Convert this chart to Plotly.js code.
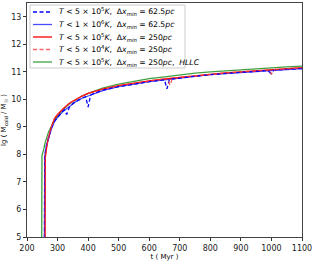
<!DOCTYPE html>
<html><head><meta charset="utf-8">
<script src="https://cdn.plot.ly/plotly-3.0.1.min.js"></script>
<style>html,body{margin:0;padding:0;background:#fff}#c{width:313px;height:261px}</style>
</head><body><div id="c"></div>
<script>
// Time grids (Myr) and lg(M_cold/M_sun) values per run
const tBlueDash = [257,258,262,270,280,290,300,315,322,330,338,345,360,380,392,400,408,420,450,500,550,600,640,650,658,666,675,700,750,800,850,900,950,988,998,1008,1050,1100];
const vBlueDash = [4.5,7.9,8.25,8.6,8.95,9.2,9.35,9.55,9.62,9.45,9.7,9.8,9.93,10.05,10.1,9.72,10.15,10.22,10.34,10.46,10.56,10.64,10.7,10.71,10.38,10.73,10.74,10.78,10.84,10.9,10.94,10.98,11.02,11.05,10.94,11.06,11.09,11.12];

const tBlueSol = [257,258,262,270,280,290,300,320,340,360,380,400,450,500,550,600,650,700,750,800,850,900,950,1000,1050,1100];
const vBlueSol = [4.5,7.9,8.25,8.6,8.95,9.2,9.35,9.58,9.76,9.92,10.04,10.13,10.33,10.46,10.56,10.64,10.71,10.78,10.84,10.9,10.94,10.98,11.02,11.06,11.09,11.12];

const tRedSol = [259,260,265,270,280,290,300,320,340,360,380,400,450,500,550,600,650,700,750,800,850,900,950,1000,1050,1100];
const vRedSol = [4.5,7.9,8.3,8.6,9.0,9.3,9.45,9.68,9.87,10.01,10.12,10.22,10.38,10.5,10.59,10.67,10.74,10.8,10.86,10.91,10.96,11.0,11.04,11.08,11.11,11.15];

const tRedDash = [259,260,265,270,280,290,300,320,340,360,380,400,450,500,550,600,650,660,668,676,700,750,800,850,900,950,990,1000,1010,1050,1100];
const vRedDash = [4.5,7.9,8.3,8.6,9.0,9.3,9.45,9.68,9.87,10.01,10.12,10.22,10.38,10.5,10.59,10.67,10.74,10.76,10.52,10.77,10.8,10.86,10.91,10.96,11.0,11.04,11.07,10.92,11.08,11.11,11.15];

const tGreen = [248,249,255,260,270,280,290,300,320,340,360,380,400,450,500,550,600,650,700,750,800,850,900,950,1000,1050,1100];
const vGreen = [4.5,7.95,8.2,8.45,8.8,9.05,9.25,9.4,9.65,9.85,10.0,10.12,10.22,10.42,10.55,10.66,10.75,10.82,10.89,10.95,11.0,11.04,11.08,11.12,11.15,11.18,11.21];

const legendLabels = [
  "<i>T</i> < 5 × 10<sup>5</sup><i>K</i>,  Δ<i>x</i><sub><i>min</i></sub> = 62.5<i>pc</i>",
  "<i>T</i> < 1 × 10<sup>6</sup><i>K</i>,  Δ<i>x</i><sub><i>min</i></sub> = 62.5<i>pc</i>",
  "<i>T</i> < 5 × 10<sup>5</sup><i>K</i>,  Δ<i>x</i><sub><i>min</i></sub> = 250<i>pc</i>",
  "<i>T</i> < 5 × 10<sup>4</sup><i>K</i>,  Δ<i>x</i><sub><i>min</i></sub> = 250<i>pc</i>",
  "<i>T</i> < 5 × 10<sup>5</sup><i>K</i>,  Δ<i>x</i><sub><i>min</i></sub> = 250<i>pc</i>,  <i>HLLC</i>"
];
const xTicks = [200,300,400,500,600,700,800,900,1000,1100];
const yTicks = [5,6,7,8,9,10,11,12,13];

const styles = [
  {color:'#0000ff', dash:'4px,2.5px', width:1.3},
  {color:'rgba(0,0,255,0.7)', dash:'solid', width:1.3},
  {color:'#ff0000', dash:'solid', width:1.3},
  {color:'rgba(255,60,60,0.8)', dash:'4px,2.5px', width:1.3},
  {color:'rgba(0,128,0,0.75)', dash:'solid', width:1.3}
];
const series = [[tBlueDash,vBlueDash],[tBlueSol,vBlueSol],[tRedSol,vRedSol],[tRedDash,vRedDash],[tGreen,vGreen]];
const order = [1,4,2,0,3]; // draw order
const traces = order.map(i => ({
  x: series[i][0], y: series[i][1], type:'scatter', mode:'lines',
  line: styles[i], showlegend:false, hoverinfo:'skip'
}));

// custom compact legend (paper coords)
const L = 27, W = 275, T = 3, H = 234;
const px = v => (v - L)/W, py = v => (T + H - v)/H;
const shapes = [{type:'rect', xref:'paper', yref:'paper', x0:px(30), x1:px(185), y0:py(68), y1:py(5),
  line:{color:'#cccccc', width:1}, fillcolor:'rgba(255,255,255,0.85)', layer:'above'}];
const annotations = [];
const rows = [12, 24.5, 37, 49.5, 62];
legendLabels.forEach((lab, i) => {
  shapes.push({type:'line', xref:'paper', yref:'paper', x0:px(33), x1:px(52), y0:py(rows[i]), y1:py(rows[i]),
    line:{color:styles[i].color, width:1.3, dash:styles[i].dash}, layer:'above'});
  annotations.push({xref:'paper', yref:'paper', x:px(57), y:py(rows[i]), xanchor:'left', yanchor:'middle',
    text:lab, showarrow:false, font:{size:7.7, color:'#000', family:'DejaVu Sans'}});
});

const layout = {
  width:313, height:261,
  margin:{l:27, r:11, t:3, b:24},
  paper_bgcolor:'#fff', plot_bgcolor:'#fff',
  font:{family:'DejaVu Sans', size:8, color:'#000'},
  xaxis:{range:[200,1100], tickvals:xTicks, ticks:'outside', ticklen:3, tickcolor:'#333',
    showgrid:false, zeroline:false, showline:true, mirror:true, linecolor:'#444', linewidth:1,
    tickfont:{size:8, color:'#222'}, title:{text:'t ( Myr )', font:{size:7}, standoff:3}},
  yaxis:{range:[5,13.5], tickvals:yTicks, ticks:'outside', ticklen:3, tickcolor:'#333',
    showgrid:false, zeroline:false, showline:true, mirror:true, linecolor:'#444', linewidth:1,
    tickfont:{size:8, color:'#222'}, title:{text:'lg ( M<sub>cold</sub> / M<sub>☉</sub> )', font:{size:7}, standoff:3}},
  shapes, annotations
};
Plotly.newPlot('c', traces, layout, {staticPlot:true, displayModeBar:false});
</script></body></html>
